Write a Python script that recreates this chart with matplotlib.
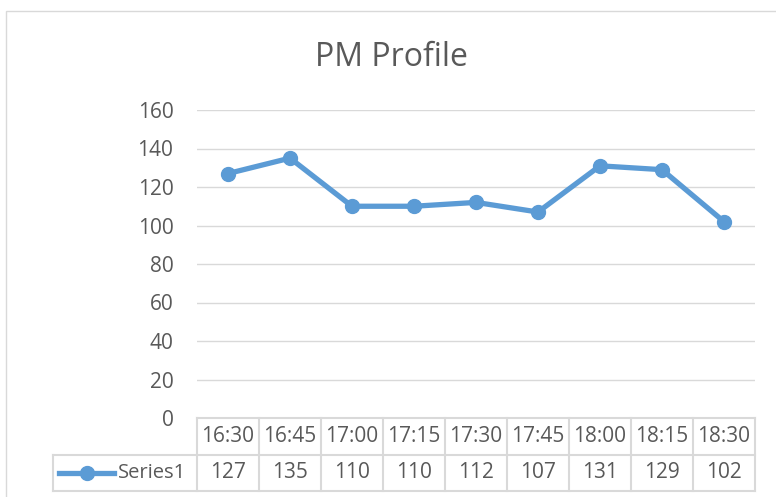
import matplotlib.pyplot as plt
from matplotlib.transforms import blended_transform_factory
from matplotlib.patches import Rectangle
from matplotlib.lines import Line2D

times = ["16:30", "16:45", "17:00", "17:15", "17:30", "17:45", "18:00", "18:15", "18:30"]
values = [127, 135, 110, 110, 112, 107, 131, 129, 102]
series_name = "Series1"
title = "PM Profile"

W, H = 776, 497
line_col = "#5B9BD5"
text_col = "#595959"
grid_col = "#D9D9D9"

plt.rcParams['font.family'] = ['Open Sans', 'DejaVu Sans']

fig = plt.figure(figsize=(W / 100, H / 100), dpi=100)

def fx(px):
    return px / W

def fy(py):
    return 1 - py / H

# chart border
fig.patches.append(Rectangle((fx(6), fy(520)), fx(800) - fx(6), fy(11) - fy(520),
                             transform=fig.transFigure, fill=False,
                             edgecolor=grid_col, linewidth=1))

ax = fig.add_axes([fx(197), fy(418), fx(755) - fx(197), fy(110) - fy(418)])
x = list(range(len(times)))
ax.plot(x, values, color=line_col, linewidth=3.8, marker='o', markersize=10,
        solid_joinstyle='round', zorder=3)
ax.set_xlim(-0.5, len(times) - 0.5)
ax.set_ylim(0, 160)
ax.set_yticks(range(0, 161, 20))
ax.grid(axis='y', color=grid_col, linewidth=1)
ax.set_axisbelow(True)
for s in ax.spines.values():
    s.set_visible(False)
ax.set_xticks([])
ax.tick_params(axis='y', length=0, pad=17, labelsize=15, labelcolor=text_col)

fig.text(0.5 * (fx(6) + 1), fy(57), title, ha='center', va='center',
         fontsize=23, color=text_col)

# data table
tr = blended_transform_factory(ax.transData, fig.transFigure)
y_top, y_mid, y_bot = fy(418), fy(455), fy(491)
n = len(times)
ax.add_line(Line2D([-0.5, n - 0.5], [y_top, y_top], transform=tr, color=grid_col,
                   linewidth=1.5, clip_on=False))
for yy in (y_mid, y_bot):
    fig.lines.append(Line2D([fx(53), fx(755)], [yy, yy], transform=fig.transFigure,
                            color=grid_col, linewidth=1.5))
fig.lines.append(Line2D([fx(53), fx(53)], [y_mid, y_bot], transform=fig.transFigure,
                        color=grid_col, linewidth=1.5))
for i in range(n + 1):
    ax.add_line(Line2D([i - 0.5, i - 0.5], [y_top, y_bot], transform=tr, color=grid_col,
                       linewidth=1.5, clip_on=False))
for i, (t, v) in enumerate(zip(times, values)):
    ax.text(i, (y_top + y_mid) / 2, t, transform=tr, ha='center', va='center',
            fontsize=15, color=text_col)
    ax.text(i, (y_mid + y_bot) / 2, str(v), transform=tr, ha='center', va='center',
            fontsize=15, color=text_col)

# legend key in table
ky = (y_mid + y_bot) / 2
fig.lines.append(Line2D([fx(59), fx(114)], [ky, ky], transform=fig.transFigure,
                        color=line_col, linewidth=3.8))
fig.lines.append(Line2D([fx(87)], [ky], transform=fig.transFigure, color=line_col,
                        marker='o', markersize=10, linestyle='none'))
fig.text(fx(118), ky, series_name, ha='left', va='center', fontsize=14.5, color=text_col)

fig.savefig("out.png", dpi=100)
